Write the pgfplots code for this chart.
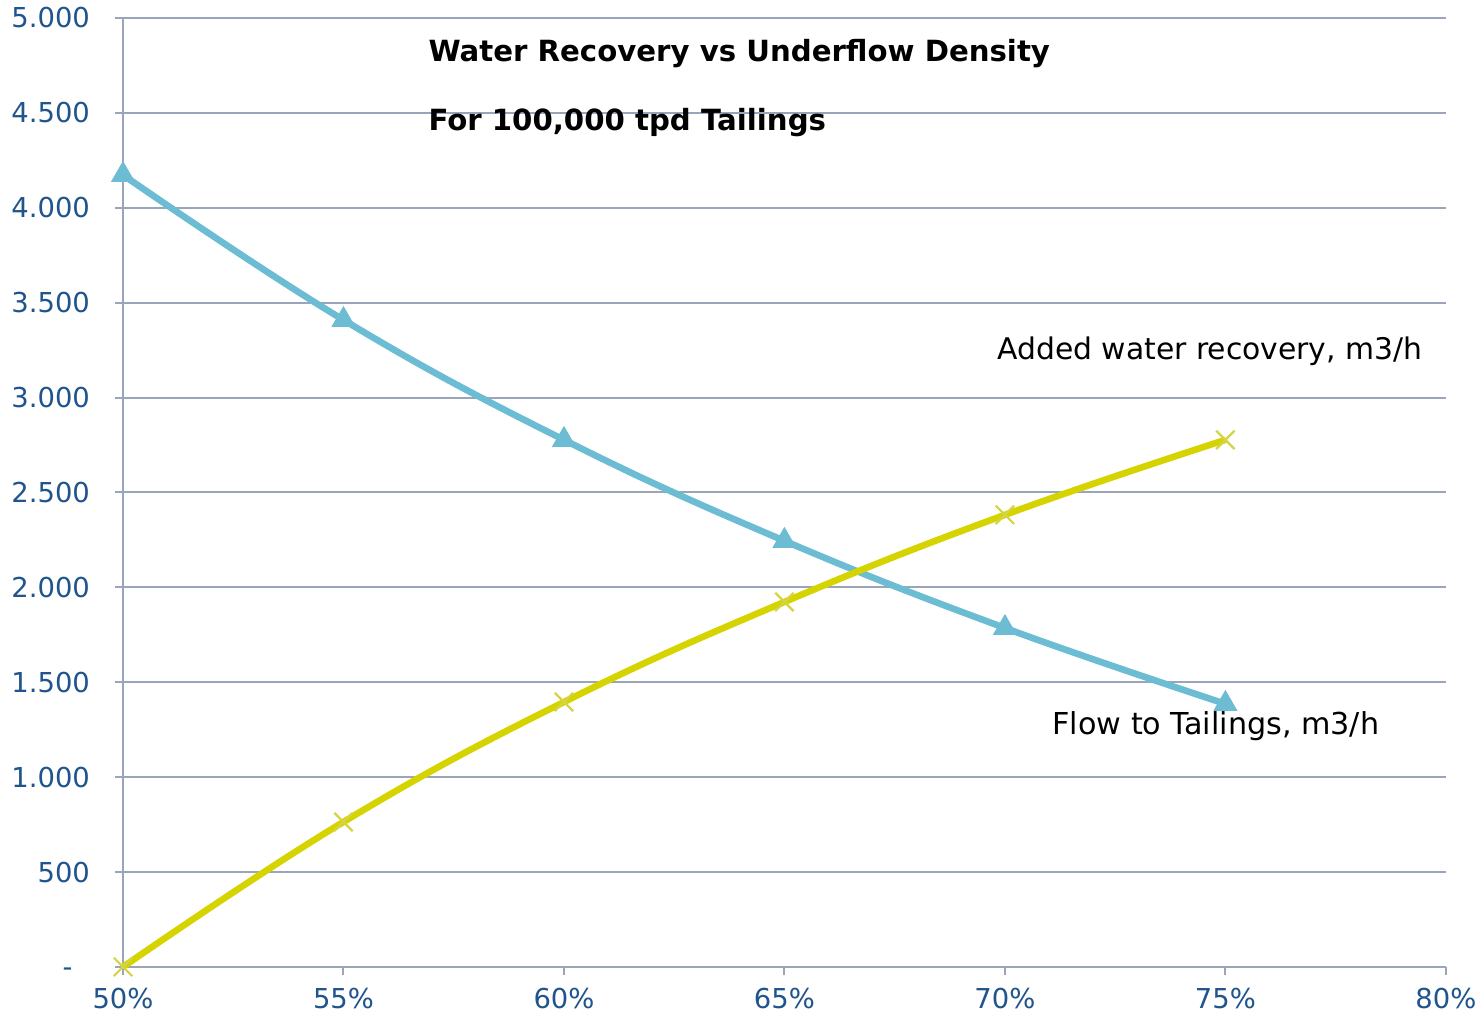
\documentclass[border=0pt]{standalone}
\usepackage{fontspec}
\setmainfont{DejaVu Sans}
\usepackage{pgfplots}
\pgfplotsset{compat=1.18}
\definecolor{gridc}{RGB}{155,165,185}
\definecolor{tickc}{RGB}{31,84,140}
\definecolor{bluec}{RGB}{108,188,212}
\definecolor{yellc}{RGB}{214,212,0}
\definecolor{yellm}{RGB}{212,212,70}
\begin{document}
\begin{tikzpicture}
\begin{axis}[
  scale only axis,
  width=661.5pt, height=474.5pt,
  xmin=50, xmax=80, ymin=0, ymax=5000,
  axis lines*=left,
  axis line style={gridc, line width=1pt},
  xtick={50,55,60,65,70,75,80},
  xticklabels={50\%,55\%,60\%,65\%,70\%,75\%,80\%},
  ytick={0,500,1000,1500,2000,2500,3000,3500,4000,4500,5000},
  yticklabels={{-\phantom{0}\rule{0pt}{0pt}},500,1.000,1.500,2.000,2.500,3.000,3.500,4.000,4.500,5.000},
  tick align=outside,
  major tick length=4pt,
  tick style={gridc, line width=1pt},
  ymajorgrids,
  grid style={gridc, line width=1pt},
  ticklabel style={font=\fontsize{13.7}{15}\selectfont, text=tickc},
  xticklabel style={yshift=-3pt},
  yticklabel style={xshift=-9pt},
  clip=false,
]
\addplot[bluec, line width=3.3pt, smooth, tension=0.7, mark=triangle*, mark size=6.5pt, mark options={solid, fill=bluec, draw=bluec, line width=0.5pt}]
  coordinates {(50,4173) (55,3409) (60,2777) (65,2245) (70,1786) (75,1386)};
\addplot[yellc, line width=3.3pt, smooth, tension=0.7, mark=x, mark size=6.5pt, mark options={draw=yellm, line width=1.1pt}]
  coordinates {(50,0) (55,764) (60,1396) (65,1923) (70,2382) (75,2777)};
\node[anchor=west, inner sep=0pt, font=\bfseries\fontsize{14.6}{16}\selectfont] at (axis cs:56.92,4810) {Water Recovery vs Underflow Density};
\node[anchor=west, inner sep=0pt, font=\bfseries\fontsize{14.6}{16}\selectfont] at (axis cs:56.92,4447) {For 100,000 tpd Tailings};
\node[anchor=west, inner sep=0pt, font=\fontsize{14.9}{16}\selectfont] at (axis cs:69.82,3246) {Added water recovery, m3/h};
\node[anchor=west, inner sep=0pt, font=\fontsize{15.1}{16}\selectfont] at (axis cs:71.07,1270) {Flow to Tailings, m3/h};
\end{axis}
\path ([xshift=-61.5pt,yshift=-26pt]current axis.south west) ([xshift=18.5pt,yshift=9pt]current axis.north east);
\end{tikzpicture}
\end{document}
